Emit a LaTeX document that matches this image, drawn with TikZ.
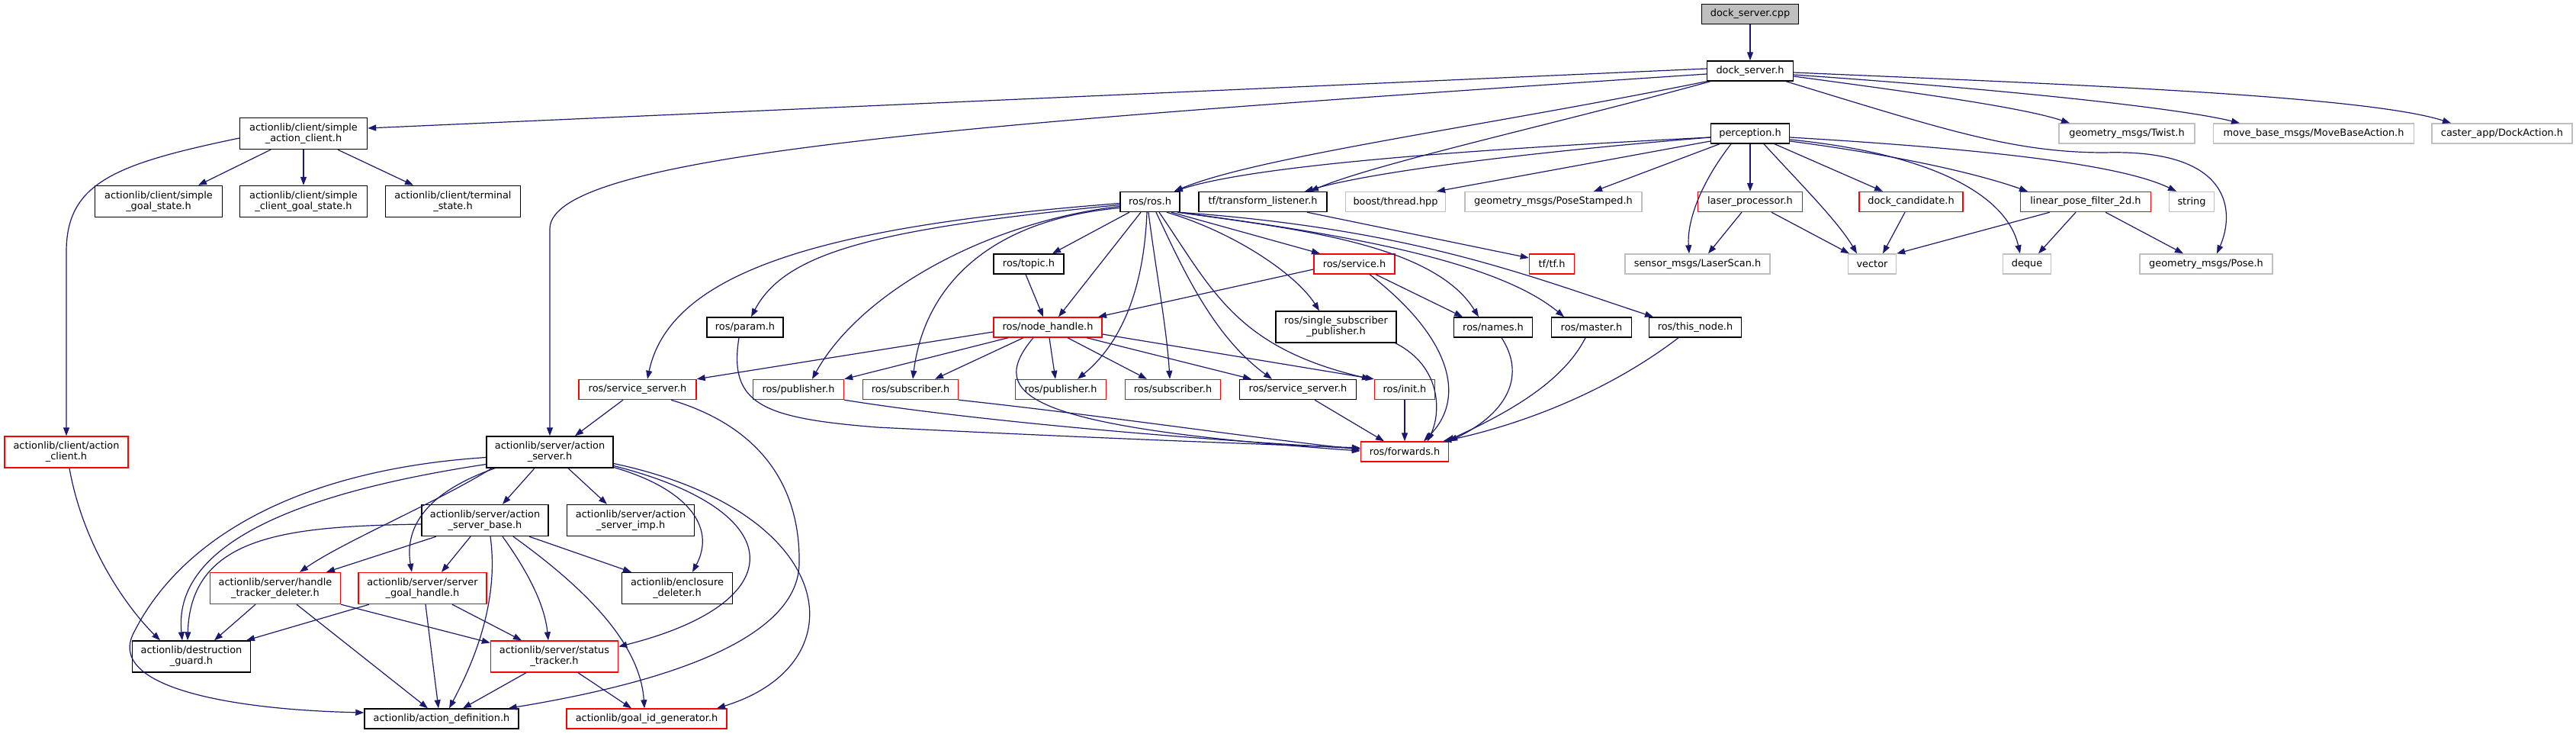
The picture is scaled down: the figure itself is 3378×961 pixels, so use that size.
\documentclass[tikz,border=0pt]{standalone}
\usepackage{fontspec}
\setmainfont{DejaVu Sans}
\usetikzlibrary{arrows.meta}
\definecolor{edgeblue}{HTML}{191970}
\definecolor{greyline}{HTML}{BFBFBF}
\definecolor{rootfill}{HTML}{BFBFBF}
\tikzset{
  nb/.style={draw=black, fill=white, rectangle, line width=1.4pt, minimum height=26pt,
    inner xsep=3pt, inner ysep=2pt, font=\fontsize{12.9}{14}\selectfont, align=center},
  ng/.style={nb, draw=greyline},
  nr/.style={nb, draw=red},
  tw/.style={minimum height=41pt},
  dep/.style={draw=edgeblue, line width=1.2pt, -{Triangle[length=11pt,width=8pt]}}
}
\begin{document}
\begin{tikzpicture}[x=1pt,y=-1pt]
\useasboundingbox (0,0) rectangle (3378,961);
% ---------- nodes ----------
\node[nb,fill=rootfill,minimum width=127pt] (cpp) at (2295,18.5) {dock\_server.cpp};
\node[nb,minimum width=113pt] (dsh) at (2295,93) {dock\_server.h};
\node[nb,tw,minimum width=167pt] (sac) at (398,175) {actionlib/client/simple\\\_action\_client.h};
\node[nb,minimum width=103pt] (perc) at (2295,175) {perception.h};
\node[ng,minimum width=178pt] (twist) at (2789,175) {geometry\_msgs/Twist.h};
\node[ng,minimum width=263pt] (mba) at (3034,175) {move\_base\_msgs/MoveBaseAction.h};
\node[ng,minimum width=184pt] (dact) at (3281,175) {caster\_app/DockAction.h};
\node[nb,tw,minimum width=167pt] (sgs) at (208,264) {actionlib/client/simple\\\_goal\_state.h};
\node[nb,tw,minimum width=167pt] (scgs) at (398,264) {actionlib/client/simple\\\_client\_goal\_state.h};
\node[nb,tw,minimum width=177pt] (term) at (594,264) {actionlib/client/terminal\\\_state.h};
\node[nb,minimum width=78pt] (rosh) at (1508,264.5) {ros/ros.h};
\node[nb,minimum width=168pt] (tfl) at (1656,264.5) {tf/transform\_listener.h};
\node[ng,minimum width=131pt] (boost) at (1830,264.5) {boost/thread.hpp};
\node[ng,minimum width=232pt] (pst) at (2037,264.5) {geometry\_msgs/PoseStamped.h};
\node[nr,minimum width=137pt] (laser) at (2295,264.5) {laser\_processor.h};
\node[nr,minimum width=136pt] (dcand) at (2506,264.5) {dock\_candidate.h};
\node[nr,minimum width=171pt] (lpf) at (2735,264.5) {linear\_pose\_filter\_2d.h};
\node[ng,minimum width=59pt] (str) at (2874,264.5) {string};
\node[nb,minimum width=92pt] (topic) at (1349,346) {ros/topic.h};
\node[nr,minimum width=106pt] (serv) at (1776,346) {ros/service.h};
\node[nr,minimum width=59pt] (tftf) at (2035,346) {tf/tf.h};
\node[ng,minimum width=190pt] (lscan) at (2226,346) {sensor\_msgs/LaserScan.h};
\node[ng,minimum width=63pt] (vec) at (2455,346) {vector};
\node[ng,minimum width=63pt] (deq) at (2658,346) {deque};
\node[ng,minimum width=174pt] (pose) at (2893,346) {geometry\_msgs/Pose.h};
\node[nb,minimum width=100pt] (param) at (977,429) {ros/param.h};
\node[nr,minimum width=142pt] (nh) at (1374,429) {ros/node\_handle.h};
\node[nb,tw,minimum width=158pt] (ssp) at (1752,428.5) {ros/single\_subscriber\\\_publisher.h};
\node[nb,minimum width=103pt] (names) at (1958,429) {ros/names.h};
\node[nb,minimum width=105pt] (master) at (2087,429) {ros/master.h};
\node[nb,minimum width=121pt] (tnode) at (2223,429) {ros/this\_node.h};
\node[nr,minimum width=154pt] (ssl) at (836,510.5) {ros/service\_server.h};
\node[nr,minimum width=119pt] (pubA) at (1047,510.5) {ros/publisher.h};
\node[nr,minimum width=125pt] (subA) at (1194,510.5) {ros/subscriber.h};
\node[nr,minimum width=119pt] (pubB) at (1391,510.5) {ros/publisher.h};
\node[nr,minimum width=125pt] (subB) at (1538,510.5) {ros/subscriber.h};
\node[nb,minimum width=153pt] (ssr) at (1702,510.5) {ros/service\_server.h};
\node[nr,minimum width=79pt] (init) at (1842,510.5) {ros/init.h};
\node[nr,minimum width=115pt] (fwd) at (1842,592) {ros/forwards.h};
\node[nr,tw,minimum width=162pt] (acl) at (87,592.5) {actionlib/client/action\\\_client.h};
\node[nb,tw,minimum width=166pt] (asv) at (721,592.5) {actionlib/server/action\\\_server.h};
\node[nb,tw,minimum width=166pt] (asb) at (636,682) {actionlib/server/action\\\_server\_base.h};
\node[nb,tw,minimum width=167pt] (asi) at (827,682) {actionlib/server/action\\\_server\_imp.h};
\node[nr,tw,minimum width=171pt] (htd) at (361,771) {actionlib/server/handle\\\_tracker\_deleter.h};
\node[nr,tw,minimum width=168pt] (sgh) at (554,771) {actionlib/server/server\\\_goal\_handle.h};
\node[nb,tw,minimum width=145pt] (encl) at (888,771) {actionlib/enclosure\\\_deleter.h};
\node[nb,tw,minimum width=155pt] (dg) at (251,860.5) {actionlib/destruction\\\_guard.h};
\node[nr,tw,minimum width=167pt] (st) at (727,860.5) {actionlib/server/status\\\_tracker.h};
\node[nb,minimum width=202pt] (ad) at (579,942) {actionlib/action\_definition.h};
\node[nr,minimum width=210pt] (gig) at (848,942) {actionlib/goal\_id\_generator.h};
% ---------- edges: top ----------
\draw[dep] (cpp) -- (dsh);
\draw[dep] ([yshift=3pt]dsh.west) -- ([yshift=7pt]sac.east);
\draw[dep] ([yshift=-4pt]dsh.west) .. controls (1300,160) and (721,200) .. (721,300) -- (asv.north);
\draw[dep] (dsh.south west) .. controls (1950,165) and (1650,205) .. ([xshift=-8pt]rosh.north east);
\draw[dep] ([yshift=-5pt]perc.west) .. controls (1950,195) and (1650,215) .. ([xshift=-8pt]rosh.north east);
\draw[dep] ([xshift=5pt]dsh.south west) .. controls (2050,160) and (1800,215) .. ([xshift=62pt]tfl.north);
\draw[dep] ([yshift=-5pt]perc.west) .. controls (2000,200) and (1800,225) .. ([xshift=55pt]tfl.north);
\draw[dep] ([yshift=-10pt]perc.west) -- ([xshift=54pt]boost.north);
\draw[dep] ([xshift=-40pt]perc.south) -- ([xshift=53pt]pst.north);
\draw[dep] ([xshift=-25pt]perc.south) .. controls (2230,240) and (2212,290) .. ([xshift=-11pt]lscan.north);
\draw[dep] (perc) -- (laser);
\draw[dep] ([xshift=18pt]perc.south) .. controls (2360,240) and (2410,290) .. ([xshift=-20pt]vec.north);
\draw[dep] ([xshift=32pt]perc.south) -- ([xshift=-37pt]dcand.north);
\draw[dep] ([yshift=-8pt]perc.east) .. controls (2520,200) and (2630,250) .. ([xshift=-9pt]deq.north);
\draw[dep] ([yshift=-10pt]perc.east) .. controls (2500,205) and (2600,230) .. ([xshift=-76pt]lpf.north);
\draw[dep] ([yshift=-5pt]perc.east) .. controls (2600,195) and (2780,215) .. ([xshift=-20pt]str.north);
\draw[dep] ([yshift=-7pt]dsh.east) .. controls (2500,120) and (2650,140) .. ([xshift=-75pt]twist.north);
\draw[dep] ([yshift=-5pt]dsh.east) .. controls (2600,115) and (2850,140) .. ([xshift=-97pt]mba.north);
\draw[dep] ([yshift=-2pt]dsh.east) .. controls (2700,110) and (3100,125) .. ([xshift=-67pt]dact.north);
\draw[dep] ([xshift=47pt]dsh.south) .. controls (2550,170) and (2640,200) .. (2760,200) .. controls (2930,195) and (2930,280) .. ([xshift=14pt]pose.north);
\draw[dep] ([xshift=-11pt]laser.south) -- ([xshift=14pt]lscan.north);
\draw[dep] ([xshift=28pt]laser.south) -- ([xshift=-30pt]vec.north);
\draw[dep] ([xshift=-8pt]dcand.south) -- ([xshift=14pt]vec.north);
\draw[dep] ([xshift=-47pt]lpf.south) -- (vec.north east);
\draw[dep] ([xshift=-13pt]lpf.south) -- ([xshift=15pt]deq.north);
\draw[dep] ([xshift=26pt]lpf.south) -- ([xshift=-30pt]pose.north);
\draw[dep] ([xshift=58pt]tfl.south) -- ([yshift=8pt]tftf.west);
% ---------- edges: ros ----------
\draw[dep] ([yshift=-2pt]rosh.west) .. controls (1100,295) and (880,350) .. ([xshift=13pt]ssl.north);
\draw[dep] ([yshift=-4pt]rosh.west) .. controls (1150,300) and (1030,330) .. ([xshift=8pt]param.north);
\draw[dep] ([yshift=-6pt]rosh.west) .. controls (1300,290) and (1130,380) .. ([xshift=18pt]pubA.north);
\draw[dep] ([yshift=-8pt]rosh.west) .. controls (1280,290) and (1210,390) .. ([xshift=3pt]subA.north);
\draw[dep] ([xshift=-27pt]rosh.south) -- ([xshift=31pt]topic.north);
\draw[dep] ([xshift=-12pt]rosh.south) -- ([xshift=14pt]nh.north);
\draw[dep] ([xshift=-4pt]rosh.south) .. controls (1500,380) and (1470,450) .. ([xshift=22pt]pubB.north);
\draw[dep] ([xshift=-2pt]rosh.south) .. controls (1515,350) and (1530,430) .. ([xshift=-4pt]subB.north);
\draw[dep] ([xshift=8pt]rosh.south) .. controls (1550,350) and (1590,440) .. ([xshift=-34pt]ssr.north);
\draw[dep] ([xshift=12pt]rosh.south) .. controls (1590,380) and (1620,455) .. ([xshift=-45pt]init.north);
\draw[dep] ([xshift=28pt]rosh.south) -- ([xshift=-45pt]serv.north);
\draw[dep] ([xshift=22pt]rosh.south) .. controls (1620,305) and (1700,360) .. ([xshift=-22pt]ssp.north);
\draw[dep] ([xshift=-4pt]rosh.south east) .. controls (1700,300) and (1880,320) .. ([xshift=-19pt]names.north);
\draw[dep] ([xshift=-3pt]rosh.south east) .. controls (1750,305) and (1960,340) .. ([xshift=-36pt]master.north);
\draw[dep] ([xshift=-2pt]rosh.south east) .. controls (1850,300) and (2000,360) .. ([xshift=-55pt]tnode.north);
\draw[dep] ([xshift=28pt]serv.south) -- ([xshift=-40pt]names.north);
\draw[dep] ([yshift=-7pt]serv.west) -- ([xshift=66pt]nh.north);
\draw[dep] ([xshift=20pt]serv.south) .. controls (1900,440) and (1925,520) .. ([xshift=25pt]fwd.north);
\draw[dep] ([xshift=-4pt]topic.south) -- ([xshift=-6pt]nh.north);
\draw[dep] ([xshift=-2pt]ssp.south east) .. controls (1890,480) and (1890,540) .. ([xshift=30pt]fwd.north);
\draw[dep] ([xshift=11pt]names.south) .. controls (2000,490) and (1980,540) .. (fwd.north east);
\draw[dep] ([xshift=-8pt]master.south) .. controls (2050,500) and (1980,540) .. ([xshift=-4pt]fwd.north east);
\draw[dep] ([xshift=-22pt]tnode.south) .. controls (2100,520) and (1980,560) .. ([xshift=-8pt]fwd.north east);
\draw[dep] ([xshift=22pt]ssr.south) -- ([xshift=-27pt]fwd.north);
\draw[dep] (init) -- (fwd);
\draw[dep] ([xshift=-8pt]param.south) .. controls (955,530) and (1000,548) .. (1150,560) .. controls (1450,575) and (1650,582) .. ([yshift=5pt]fwd.west);
\draw[dep] (pubA.south east) .. controls (1300,555) and (1600,578) .. ([yshift=4pt]fwd.west);
\draw[dep] (subA.south east) .. controls (1450,545) and (1650,575) .. ([yshift=3pt]fwd.west);
\draw[dep] ([xshift=-19pt]nh.south) .. controls (1290,520) and (1350,560) .. ([yshift=1pt]fwd.west);
\draw[dep] ([yshift=-6pt]nh.west) -- (ssl.north east);
\draw[dep] ([xshift=-52pt]nh.south) -- (pubA.north east);
\draw[dep] ([xshift=-32pt]nh.south) -- ([xshift=32pt]subA.north);
\draw[dep] ([xshift=2pt]nh.south) -- ([xshift=-7pt]pubB.north);
\draw[dep] ([xshift=26pt]nh.south) -- ([xshift=-34pt]subB.north);
\draw[dep] ([xshift=51pt]nh.south) -- ([xshift=-61pt]ssr.north);
\draw[dep] ([yshift=-9pt]nh.east) -- (init.north west);
% ---------- edges: actionlib ----------
\draw[dep] ([xshift=-19pt]ssl.south) -- ([xshift=33pt]asv.north);
\draw[dep] ([xshift=44pt]ssl.south) .. controls (1000,560) and (1050,640) .. (1048,740) .. controls (1045,830) and (900,890) .. ([xshift=-14pt]ad.north east);
\draw[dep] ([yshift=-6pt]sac.west) .. controls (150,215) and (87,240) .. (87,330) -- (acl.north);
\draw[dep] ([xshift=-43pt]sac.south) -- ([xshift=52pt]sgs.north);
\draw[dep] (sac) -- (scgs);
\draw[dep] ([xshift=45pt]sac.south) -- ([xshift=-52pt]term.north);
\draw[dep] ([xshift=4pt]acl.south) .. controls (110,720) and (170,800) .. ([xshift=-41pt]dg.north);
\draw[dep] ([yshift=-7pt]asv.west) .. controls (400,615) and (240,700) .. (175,830) .. controls (140,900) and (300,930) .. ([yshift=8pt]ad.west);
\draw[dep] ([yshift=-16pt]asv.west) .. controls (430,640) and (225,700) .. ([xshift=-12pt]dg.north);
\draw[dep] ([xshift=-76pt]asv.south) .. controls (570,660) and (450,710) .. ([xshift=32pt]htd.north);
\draw[dep] ([xshift=-72pt]asv.south) .. controls (560,645) and (530,690) .. ([xshift=-14pt]sgh.north);
\draw[dep] ([xshift=-20pt]asv.south) -- ([xshift=23pt]asb.north);
\draw[dep] ([xshift=24pt]asv.south) -- ([xshift=-31pt]asi.north);
\draw[dep] ([yshift=-20pt]asv.east) .. controls (900,640) and (940,690) .. ([xshift=20pt]encl.north);
\draw[dep] ([yshift=-18pt]asv.east) .. controls (1040,670) and (1040,790) .. ([yshift=13pt]st.east);
\draw[dep] ([yshift=-15pt]asv.east) .. controls (1100,670) and (1130,870) .. ([xshift=92pt]gig.north);
\draw[dep] ([yshift=-5pt]asb.west) .. controls (380,690) and (250,700) .. ([xshift=-5pt]dg.north);
\draw[dep] ([xshift=-64pt]asb.south) -- ([xshift=67pt]htd.north);
\draw[dep] ([xshift=-19pt]asb.south) -- ([xshift=25pt]sgh.north);
\draw[dep] ([xshift=7pt]asb.south) .. controls (655,790) and (620,870) .. ([xshift=10pt]ad.north);
\draw[dep] ([xshift=23pt]asb.south) .. controls (700,760) and (715,800) .. ([xshift=-8pt]st.north);
\draw[dep] ([xshift=37pt]asb.south) .. controls (780,780) and (840,850) .. ([xshift=-3pt]gig.north);
\draw[dep] ([xshift=58pt]asb.south) -- ([xshift=-60pt]encl.north);
\draw[dep] ([xshift=-26pt]htd.south) -- ([xshift=30pt]dg.north);
\draw[dep] ([xshift=28pt]htd.south) -- ([xshift=-18pt]ad.north);
\draw[dep] (htd.south east) -- ([yshift=18pt]st.west);
\draw[dep] ([xshift=-70pt]sgh.south) -- ([xshift=72pt]dg.north);
\draw[dep] ([xshift=4pt]sgh.south) -- ([xshift=-4pt]ad.north);
\draw[dep] ([xshift=39pt]sgh.south) -- ([xshift=-43pt]st.north);
\draw[dep] ([xshift=-37pt]st.south) -- ([xshift=28pt]ad.north);
\draw[dep] ([xshift=31pt]st.south) -- ([xshift=-20pt]gig.north);
\end{tikzpicture}
\end{document}
